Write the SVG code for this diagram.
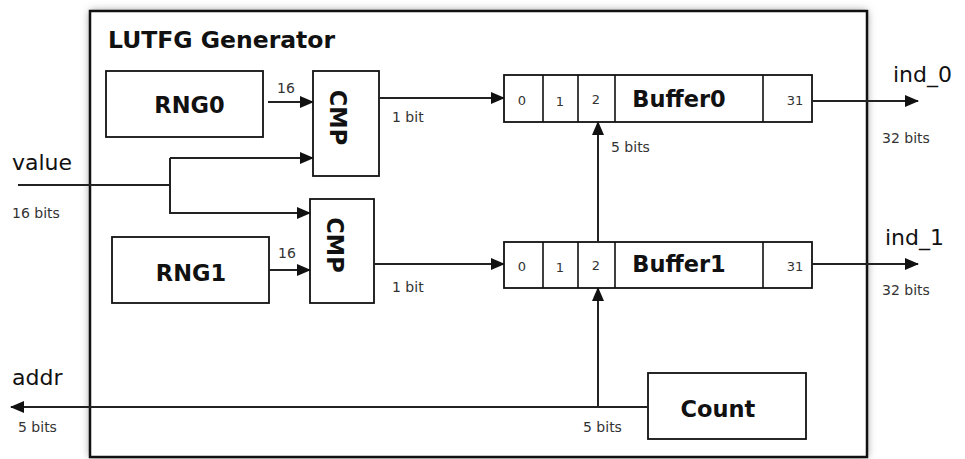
<svg xmlns="http://www.w3.org/2000/svg" width="965" height="459" viewBox="0 0 965 459">
  <style>
    .box { fill: #fff; stroke: #111; stroke-width: 1.8; }
    .cell { fill: none; stroke: #111; stroke-width: 1.6; }
    .wire { fill: none; stroke: #222; stroke-width: 2; }
    .arrow { fill: none; stroke: #222; stroke-width: 2; marker-end: url(#ah); }
    .bold { font-family: "DejaVu Sans", sans-serif; font-weight: bold; font-size: 22.5px; fill: #111; }
    .lbl { font-family: "DejaVu Sans", sans-serif; font-size: 22px; fill: #111; }
    .small { font-family: "DejaVu Sans", sans-serif; font-size: 14px; fill: #333; }
    .num { font-family: "DejaVu Sans", sans-serif; font-size: 13px; fill: #333; text-anchor: middle; }
    .mid { text-anchor: middle; }
  </style>
  <defs>
    <marker id="ah" markerUnits="userSpaceOnUse" markerWidth="14" markerHeight="12" refX="13" refY="6" orient="auto">
      <path d="M0,0 L14,6 L0,12 z" fill="#111"/>
    </marker>
    <filter id="shadow" x="-5%" y="-5%" width="110%" height="110%">
      <feGaussianBlur stdDeviation="4"/>
    </filter>
  </defs>
  <rect width="965" height="459" fill="#fff"/>

  <g id="generator">
    <rect x="90" y="11" width="777" height="446" fill="#888" filter="url(#shadow)"/>
    <rect x="90" y="11" width="777" height="446" fill="#fff" stroke="#111" stroke-width="2.5"/>
    <text class="bold" x="108" y="48" style="font-size:23.5px">LUTFG Generator</text>
  </g>

  <g id="rng0">
    <rect class="box" x="106" y="71" width="157" height="66"/>
    <text class="bold mid" x="189.5" y="113">RNG0</text>
  </g>
  <g id="rng1">
    <rect class="box" x="112" y="237" width="157" height="66"/>
    <text class="bold mid" x="191" y="281">RNG1</text>
  </g>
  <g id="cmp0">
    <rect class="box" x="313" y="71" width="66" height="105"/>
    <text class="bold mid" transform="translate(330,117.5) rotate(90)">CMP</text>
  </g>
  <g id="cmp1">
    <rect class="box" x="310" y="199" width="64" height="104"/>
    <text class="bold mid" transform="translate(327,245) rotate(90)">CMP</text>
  </g>
  <g id="buffer0">
    <rect class="box" x="504" y="75" width="308" height="47"/>
    <path class="cell" d="M543,75 V122 M578,75 V122 M615,75 V122 M763,75 V122"/>
    <text class="num" x="522" y="105">0</text>
    <text class="num" x="560" y="106">1</text>
    <text class="num" x="596" y="104">2</text>
    <text class="num" x="795" y="105">31</text>
    <text class="bold mid" x="679" y="107">Buffer0</text>
  </g>
  <g id="buffer1">
    <rect class="box" x="504" y="242" width="308" height="46"/>
    <path class="cell" d="M543,242 V288 M578,242 V288 M615,242 V288 M763,242 V288"/>
    <text class="num" x="522" y="271">0</text>
    <text class="num" x="560" y="272">1</text>
    <text class="num" x="596" y="270">2</text>
    <text class="num" x="795" y="271">31</text>
    <text class="bold mid" x="679" y="272">Buffer1</text>
  </g>
  <g id="count">
    <rect class="box" x="648" y="373" width="158" height="66"/>
    <text class="bold mid" x="718" y="417">Count</text>
  </g>

  <g id="connectors">
    <path class="arrow" d="M268,102 H313"/>
    <path class="wire" d="M18,185 H170 M170,158 V214"/>
    <path class="arrow" d="M170,158 H313"/>
    <path class="arrow" d="M170,213 H310"/>
    <path class="arrow" d="M269,270 H310"/>
    <path class="arrow" d="M379,98 H504"/>
    <path class="arrow" d="M374,264 H504"/>
    <path class="arrow" d="M598,242 V122"/>
    <path class="arrow" d="M648,407 H11"/>
    <path class="arrow" d="M598,407 V288"/>
    <path class="arrow" d="M812,101 H918"/>
    <path class="arrow" d="M812,264 H918"/>
  </g>

  <g id="labels">
    <text class="small" x="277" y="93">16</text>
    <text class="small" x="278" y="258">16</text>
    <text class="lbl" x="12" y="170">value</text>
    <text class="small" x="12" y="218">16 bits</text>
    <text class="small" x="392" y="122">1 bit</text>
    <text class="small" x="392" y="292">1 bit</text>
    <text class="small" x="611" y="152">5 bits</text>
    <text class="lbl" x="893" y="82">ind_0</text>
    <text class="small" x="882" y="143">32 bits</text>
    <text class="lbl" x="885" y="245">ind_1</text>
    <text class="small" x="882" y="295">32 bits</text>
    <text class="lbl" x="12" y="385">addr</text>
    <text class="small" x="18" y="432">5 bits</text>
    <text class="small" x="583" y="432">5 bits</text>
  </g>
</svg>
